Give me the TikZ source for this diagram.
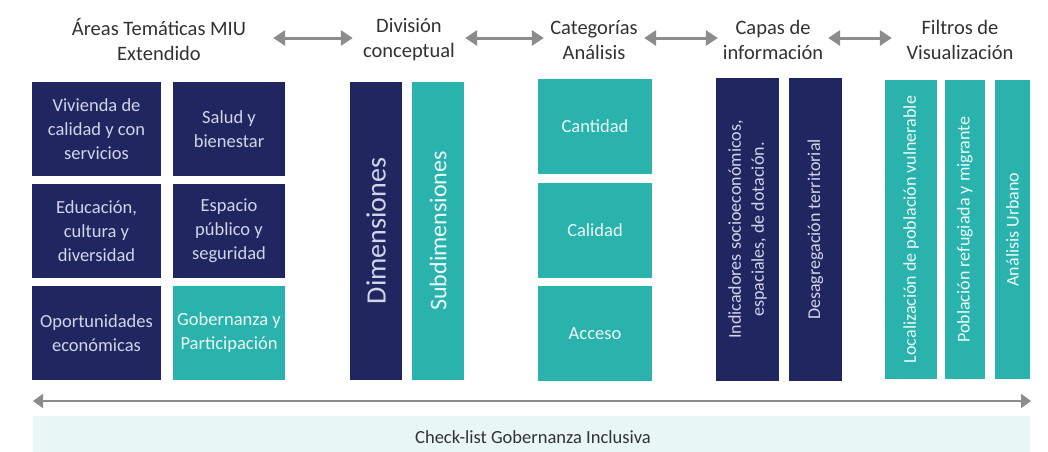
\documentclass[tikz,border=0pt]{standalone}
\usepackage{fontspec}
\setmainfont{Carlito}
\usetikzlibrary{arrows.meta}
\definecolor{navy}{RGB}{32,39,96}
\definecolor{teal2}{RGB}{42,179,173}
\definecolor{hdr}{RGB}{50,50,50}
\definecolor{arr}{RGB}{140,140,140}
\definecolor{bandc}{RGB}{232,246,246}
\definecolor{navytxt}{RGB}{210,212,232}
\definecolor{tealtxt}{RGB}{236,250,248}
\begin{document}
\begin{tikzpicture}[x=1pt,y=-1pt,
  hdrnode/.style={text=hdr, align=center, inner sep=0pt, font=\fontsize{20.5}{25}\selectfont},
  nbox/.style={fill=navy, text=navytxt, align=center, inner sep=0pt, font=\fontsize{18.5}{24}\selectfont},
  tbox/.style={fill=teal2, text=tealtxt, align=center, inner sep=0pt, font=\fontsize{18.5}{24}\selectfont},
  harrow/.style={draw=arr, line width=3pt, {Triangle[length=12pt,width=15pt]}-{Triangle[length=12pt,width=15pt]}},
  barrow/.style={draw=arr, line width=2pt, {Triangle[length=10pt,width=14pt]}-{Triangle[length=10pt,width=14pt]}},
  rtxt/.style={rotate=90, align=center, inner sep=0pt, font=\fontsize{18}{23}\selectfont}
]
\useasboundingbox (0,0) rectangle (1048,451);
\fill[white] (0,0) rectangle (1048,451);

% headers
\node[hdrnode, minimum width=228pt] (h1) at (159,40) {Áreas Temáticas MIU\\Extendido};
\node[hdrnode, minimum width=112pt] (h2) at (409,40) {División\\conceptual};
\node[hdrnode, minimum width=100pt] (h3) at (594,40) {Categorías\\Análisis};
\node[hdrnode, minimum width=110pt] (h4) at (773,40) {Capas de\\información};
\node[hdrnode, minimum width=136pt] (h5) at (960,40) {Filtros de\\Visualización};

\draw[harrow] ([yshift=2pt]h1.east) -- ([yshift=2pt]h2.west);
\draw[harrow] ([yshift=2pt]h2.east) -- ([yshift=2pt]h3.west);
\draw[harrow] ([yshift=2pt]h3.east) -- ([yshift=2pt]h4.west);
\draw[harrow] ([yshift=2pt]h4.east) -- ([yshift=2pt]h5.west);

% Areas tematicas grid
\node[nbox, minimum width=129pt, minimum height=94pt] (a1) at (96.5,129) {Vivienda de\\calidad y con\\servicios};
\node[nbox, minimum width=112pt, minimum height=94pt] (a2) at (229,129) {Salud y\\bienestar};
\node[nbox, minimum width=129pt, minimum height=94pt] (a3) at (96.5,231) {Educación,\\cultura y\\diversidad};
\node[nbox, minimum width=112pt, minimum height=94pt] (a4) at (229,231) {Espacio\\público y\\seguridad};
\node[nbox, minimum width=129pt, minimum height=94pt] (a5) at (96.5,333) {Oportunidades\\económicas};
\node[tbox, minimum width=112pt, minimum height=94pt] (a6) at (229,333) {Gobernanza y\\Participación};

% Division conceptual
\node[nbox, minimum width=52pt, minimum height=298pt] (d1) at (376,231) {};
\node[rtxt, text=navytxt, font=\fontsize{28}{32}\selectfont] (d1t) at (d1.center) {Dimensiones};
\node[tbox, minimum width=52pt, minimum height=298pt] (d2) at (438,231) {};
\node[rtxt, text=tealtxt, font=\fontsize{24}{28}\selectfont] (d2t) at (d2.center) {Subdimensiones};

% Categorias
\node[tbox, minimum width=114pt, minimum height=95pt] (c1) at (595,126.5) {Cantidad};
\node[tbox, minimum width=114pt, minimum height=95pt] (c2) at (595,230.5) {Calidad};
\node[tbox, minimum width=114pt, minimum height=95pt] (c3) at (595,333.5) {Acceso};

% Capas
\node[nbox, minimum width=63pt, minimum height=303pt] (k1) at (747.5,229.5) {};
\node[rtxt, text=navytxt] (k1t) at (k1.center) {Indicadores socioeconómicos,\\espaciales, de dotación.};
\node[nbox, minimum width=53pt, minimum height=303pt] (k2) at (815.5,229.5) {};
\node[rtxt, text=navytxt] (k2t) at (k2.center) {Desagregación territorial};

% Filtros
\node[tbox, minimum width=52pt, minimum height=299pt] (f1) at (911,229.5) {};
\node[rtxt, text=tealtxt] (f1t) at (f1.center) {Localización de población vulnerable};
\node[tbox, minimum width=40pt, minimum height=299pt] (f2) at (965,229.5) {};
\node[rtxt, text=tealtxt] (f2t) at (f2.center) {Población refugiada y migrante};
\node[tbox, minimum width=35pt, minimum height=299pt] (f3) at (1012.5,229.5) {};
\node[rtxt, text=tealtxt] (f3t) at (f3.center) {Análisis Urbano};

% bottom
\coordinate (bl) at (33,401);
\coordinate (br) at (1031,401);
\draw[barrow] (bl) -- (br);
\node[fill=bandc, minimum width=997pt, minimum height=36pt, inner sep=0pt] (band) at (531.5,434) {};
\node[text=hdr, font=\fontsize{18.5}{22}\selectfont, inner sep=0pt] (bandt) at (533,437) {Check-list Gobernanza Inclusiva};
\end{tikzpicture}
\end{document}
